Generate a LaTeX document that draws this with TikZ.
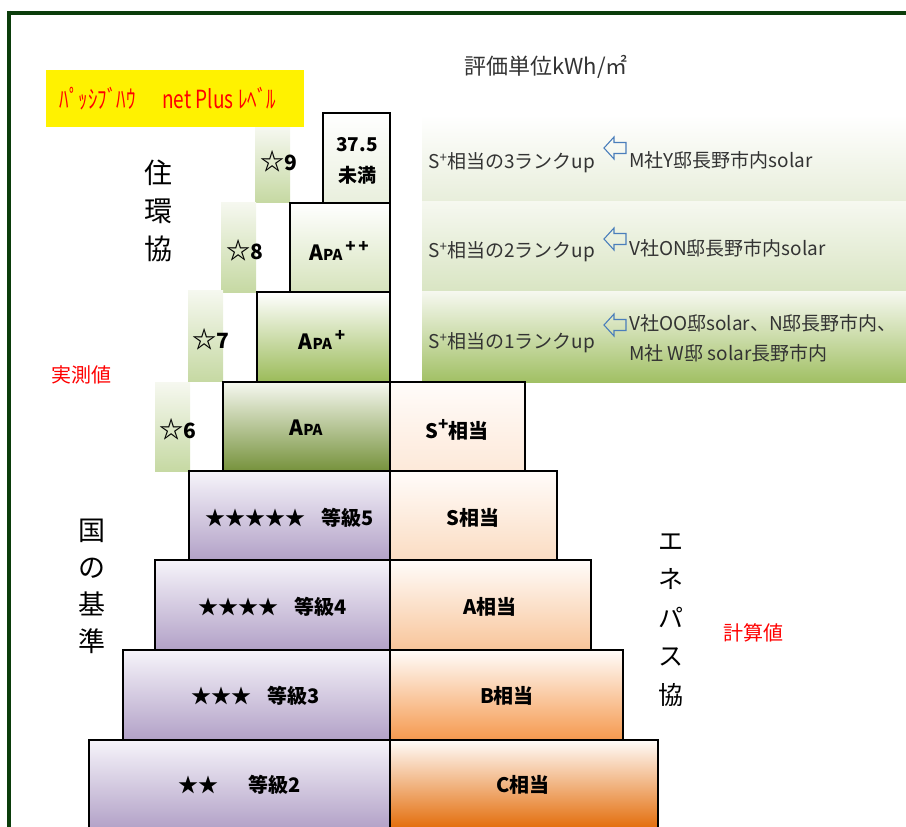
\documentclass[tikz,border=0pt]{standalone}
\usepackage{fontspec}
\setmainfont{Noto Sans CJK JP}
\definecolor{frame}{HTML}{0B3D0B}
\definecolor{purT}{HTML}{F6F4FA}
\definecolor{purB}{HTML}{B2A1C7}
\definecolor{oT}{HTML}{FFFCFA}
\definecolor{o0}{HTML}{FDE9D9}
\definecolor{o1}{HTML}{FBDCC2}
\definecolor{o2}{HTML}{F8C59A}
\definecolor{o3}{HTML}{F5994E}
\definecolor{o4}{HTML}{E36C09}
\definecolor{gT}{HTML}{F6F8F0}
\definecolor{g0}{HTML}{76923C}
\definecolor{g1}{HTML}{9BBB59}
\definecolor{g2}{HTML}{D6E3BC}
\definecolor{g3}{HTML}{E9EFDD}
\definecolor{stB}{HTML}{C6D9A3}
\definecolor{b3}{HTML}{E8EEDB}
\definecolor{b2}{HTML}{D9E5C3}
\definecolor{b1}{HTML}{A1C064}
\definecolor{txt}{HTML}{333333}
\definecolor{arr}{HTML}{4A7EBB}
\begin{document}
\begin{tikzpicture}[x=1pt,y=-1pt,
  box/.style={draw=black, line width=2pt},
  lbl/.style={font=\fontsize{20}{24}\selectfont\bfseries, inner sep=0pt},
  stlbl/.style={font=\fontsize{21}{24}\selectfont\bfseries, inner sep=0pt},
  band/.style={font=\fontsize{19}{30}\selectfont, text=txt, inner sep=0pt},
  vert/.style={align=center, inner sep=0pt},
  redlbl/.style={font=\fontsize{20}{24}\selectfont, text=red, inner sep=0pt},
  harr/.pic={\draw[arr, line width=1.1pt, line join=miter] (0,0) -- (10,-11) -- (10,-5.5) -- (22,-5.5) -- (22,5.5) -- (10,5.5) -- (10,11) -- cycle;}
]
\useasboundingbox (0,0) rectangle (906,827);
% frame
\draw[frame, line width=4pt] (7,12.5) -- (906,12.5);
\draw[frame, line width=4pt] (9,10.5) -- (9,830);
% title
\node[font=\fontsize{22}{26}\selectfont, text=txt, inner sep=0pt] (unit) at (546,67) {評価単位kWh/㎡};
% yellow label
\fill[yellow] (46,70) rectangle (304,127);
\node[font=\fontsize{20}{24}\selectfont, text=red, inner sep=0pt] (pp) at (168,99) {\scalebox{0.95}[1.25]{ﾊﾟｯｼﾌﾞﾊｳ\hspace{1.4em}net Plus\hspace{0.25em}ﾚﾍﾞﾙ}};
% right bands
\shade[top color=white, bottom color=b3] (422,115) rectangle (906,201);
\shade[top color=gT, bottom color=b2] (422,201) rectangle (906,291);
\shade[top color=gT, bottom color=b1] (422,291) rectangle (906,382);
% star columns
\shade[top color=gT, bottom color=stB] (255,127) rectangle (290,202);
\shade[top color=gT, bottom color=stB] (221,202) rectangle (256,292);
\shade[top color=gT, bottom color=stB] (188,290) rectangle (223,381);
\shade[top color=gT, bottom color=stB] (155,382) rectangle (190,471);
% pyramid boxes
\draw[box, top color=white, bottom color=g3] (323,113) rectangle (390,203);
\draw[box, top color=white, bottom color=g2] (290,203) rectangle (390,292);
\draw[box, top color=white, bottom color=g1] (257,292) rectangle (390,382);
\draw[box, top color=gT, bottom color=g0] (223,382) rectangle (390,471);
\draw[box, top color=oT, bottom color=o0] (390,382) rectangle (525,471);
\draw[box, top color=purT, bottom color=purB] (189,471) rectangle (390,560);
\draw[box, top color=oT, bottom color=o1] (390,471) rectangle (557,560);
\draw[box, top color=purT, bottom color=purB] (155,560) rectangle (390,650);
\draw[box, top color=oT, bottom color=o2] (390,560) rectangle (591,650);
\draw[box, top color=purT, bottom color=purB] (123,650) rectangle (390,740);
\draw[box, top color=oT, bottom color=o3] (390,650) rectangle (623,740);
\draw[box, top color=purT, bottom color=purB] (89,740) rectangle (390,829);
\draw[box, top color=oT, bottom color=o4] (390,740) rectangle (658,829);
% box labels
\node[lbl, align=center, font=\fontsize{19}{31}\selectfont\bfseries] (lt) at (357,161) {37.5\\未満};
\node[lbl] (apa2) at (339,251) {{\fontsize{21}{24}\selectfont A}{\fontsize{15}{18}\selectfont PA}\raisebox{8pt}{\fontsize{17}{18}\selectfont\,+\,+}};
\node[lbl] (apa1) at (322,340) {{\fontsize{21}{24}\selectfont A}{\fontsize{15}{18}\selectfont PA}\raisebox{8pt}{\fontsize{17}{18}\selectfont\,+}};
\node[lbl] (apa0) at (306,428) {{\fontsize{21}{24}\selectfont A}{\fontsize{15}{18}\selectfont PA}};
\node[lbl] (splus) at (457,430) {S\raisebox{8pt}{\fontsize{17}{18}\selectfont +}相当};
\node[lbl] (g5) at (290,518) {★★★★★\hspace{0.8em}等級5};
\node[lbl] (g4) at (273,607) {★★★★\hspace{0.8em}等級4};
\node[lbl] (g3) at (256,696) {★★★\hspace{0.8em}等級3};
\node[lbl] (g2) at (240,785) {★★\hspace{1.5em}等級2};
\node[lbl] (s) at (473,518) {S相当};
\node[lbl] (a) at (490,607) {A相当};
\node[lbl] (b) at (507,696) {B相当};
\node[lbl] (c) at (523,785) {C相当};
% star column labels
\node[stlbl] (st9) at (279,161) {\scalebox{1.15}{☆}9};
\node[stlbl] (st8) at (245,250) {\scalebox{1.15}{☆}8};
\node[stlbl] (st7) at (211,339) {\scalebox{1.15}{☆}7};
\node[stlbl] (st6) at (178,429) {\scalebox{1.15}{☆}6};
% band texts
\node[band, anchor=west] (r3) at (428,163) {S\textsuperscript{+}相当の3ランクup};
\node[band, anchor=west] (r2) at (428,252) {S\textsuperscript{+}相当の2ランクup};
\node[band, anchor=west] (r1) at (428,343) {S\textsuperscript{+}相当の1ランクup};
\pic at (604,148) {harr};
\pic at (604,239) {harr};
\pic at (604,325) {harr};
\node[band, anchor=west] (h3) at (629,160) {M社Y邸長野市内solar};
\node[band, anchor=west] (h2) at (629,248) {V社ON邸長野市内solar};
\node[band, anchor=west] (h1a) at (629,323) {V社OO邸solar、N邸長野市内、};
\node[band, anchor=west] (h1b) at (629,353) {M社 W邸 solar長野市内};
% side labels
\node[vert, font=\fontsize{28}{38}\selectfont] (jk) at (158,211) {住\\環\\協};
\node[vert, font=\fontsize{27}{37}\selectfont] (kuni) at (92,586) {国\\の\\基\\準};
\node[vert, font=\fontsize{25}{38.5}\selectfont] (enepas) at (671,620) {エ\\ネ\\パ\\ス\\協};
\node[redlbl] (jissoku) at (82,375) {実測値};
\node[redlbl] (keisan) at (753,633) {計算値};
\end{tikzpicture}
\end{document}
